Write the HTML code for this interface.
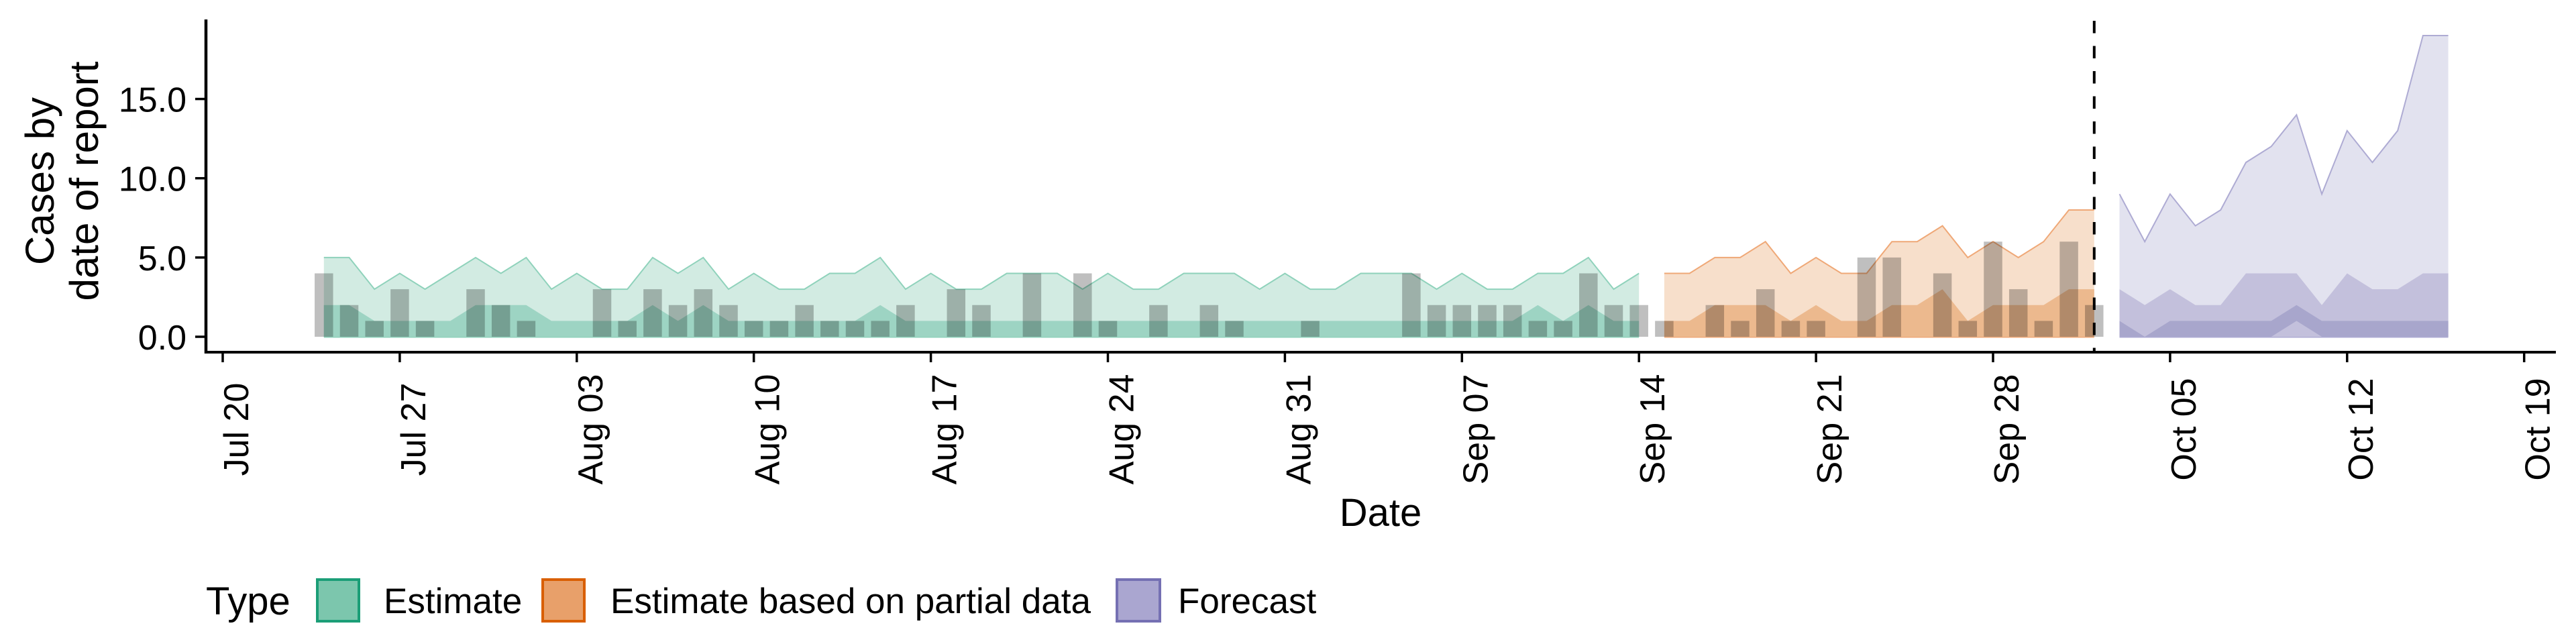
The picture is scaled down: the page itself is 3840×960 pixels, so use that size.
<!DOCTYPE html>
<html><head><meta charset="utf-8"><style>
html,body{margin:0;padding:0;background:#fff;}
svg{display:block;font-family:"Liberation Sans",sans-serif;}
</style></head><body>
<svg id="chart" width="3840" height="960" viewBox="0 0 3840 960" xmlns="http://www.w3.org/2000/svg">
<g id="bands"></g>
<g id="bars"></g>
<g id="axes"></g>
<g id="legend">
  <text x="307" y="916" font-size="58" fill="#000">Type</text>
  <g>
    <rect x="473" y="864" width="62" height="62" fill="#7cc6ad" stroke="#1b9e77" stroke-width="4"/>
    <text x="572" y="914" font-size="53" fill="#000">Estimate</text>
  </g>
  <g>
    <rect x="809" y="864" width="62" height="62" fill="#e8a06a" stroke="#d95f02" stroke-width="4"/>
    <text x="910" y="914" font-size="53" fill="#000">Estimate based on partial data</text>
  </g>
  <g>
    <rect x="1665" y="864" width="64" height="62" fill="#aaa6d0" stroke="#7570b3" stroke-width="4"/>
    <text x="1756" y="914" font-size="53" fill="#000">Forecast</text>
  </g>
</g>
</svg>
<script>
// ---- data (day index 0 = Jul 20) ----
const tickLabels = ["Jul 20","Jul 27","Aug 03","Aug 10","Aug 17","Aug 24","Aug 31","Sep 07","Sep 14","Sep 21","Sep 28","Oct 05","Oct 12","Oct 19"];
const yTicks = [0,5,10,15];
const yTickLabels = ["0.0","5.0","10.0","15.0"];
const barStart = 4;
const barValues = [4,2,1,3,1,0,3,2,1,0,0,3,1,3,2,3,2,1,1,2,1,1,1,2,0,3,2,0,4,0,4,1,0,2,0,2,1,0,0,1,0,0,0,4,2,2,2,2,1,1,4,2,2,1,0,2,1,3,1,1,0,5,5,0,4,1,6,3,1,6,2];
const estStart = 4;
const estHi90 = [5,5,3,4,3,4,5,4,5,3,4,3,3,5,4,5,3,4,3,3,4,4,5,3,4,3,3,4,4,4,3,4,3,3,4,4,4,3,4,3,3,4,4,4,3,4,3,3,4,4,5,3,4];
const estHi50 = [2,2,1,1,1,1,2,2,2,1,1,1,1,2,1,2,1,1,1,1,1,1,2,1,1,1,1,1,1,1,1,1,1,1,1,1,1,1,1,1,1,1,1,1,1,1,1,1,2,1,2,1,1];
const partStart = 57;
const partHi90 = [4,4,5,5,6,4,5,4,4,6,6,7,5,6,5,6,8,8];
const partHi50 = [1,1,2,2,2,1,2,1,1,2,2,3,1,2,2,2,3,3];
const fcStart = 75;
const fcHi90 = [9,6,9,7,8,11,12,14,9,13,11,13,19,19];
const fcHi50 = [3,2,3,2,2,4,4,4,2,4,3,3,4,4];
const fcLo20 = [0,0,0,0,0,0,0,1,0,0,0,0,0,0];
const fcHi20 = [1,0,1,1,1,1,1,2,1,1,1,1,1,1];
const cutoffDay = 74;

// ---- scales ----
const X0 = 332, DAY = 37.7;
const Y0 = 502, UNIT = 23.63;
const xs = d => X0 + DAY * d;
const ys = v => Y0 - UNIT * v;
const NS = "http://www.w3.org/2000/svg";
function mk(tag, attrs, parent){
  const e = document.createElementNS(NS, tag);
  for (const k in attrs) e.setAttribute(k, attrs[k]);
  parent.appendChild(e);
  return e;
}
const bands = document.getElementById('bands');
function band(start, lo, hi, fill, stroke, name){
  const top = hi.map((v,i)=>xs(start+i).toFixed(1)+","+ys(v).toFixed(1));
  const bot = hi.map((v,i)=>xs(start+i).toFixed(1)+","+ys(lo?lo[i]:0).toFixed(1)).reverse();
  const p = mk('polygon', {points: top.concat(bot).join(' '), fill: fill}, bands);
  
  
  if (stroke){
    const l = mk('polyline', {points: top.join(' '), fill:'none', stroke: stroke, 'stroke-width': 2}, bands);
    
    
    const b = mk('line', {x1: xs(start), x2: xs(start+hi.length-1), y1: ys(0), y2: ys(0), stroke: stroke, 'stroke-width': 3}, bands);
    
    
  }
}
band(estStart, null, estHi90, '#d2ebe2', '#8fd2bb', 'estimate-band-90');
band(estStart, null, estHi50, '#9dd4c3', null, 'estimate-band-50');
band(partStart, null, partHi90, '#f7dfcb', '#efa877', 'partial-band-90');
band(partStart, null, partHi50, '#ecb98e', null, 'partial-band-50');
band(fcStart, null, fcHi90, '#e2e2ef', '#aeabd3', 'forecast-band-90');
band(fcStart, null, fcHi50, '#c3c0dc', null, 'forecast-band-50');
band(fcStart, fcLo20, fcHi20, '#a8a6cc', null, 'forecast-band-20');

// bars
const barsG = document.getElementById('bars');
const BW = 27.5;
barValues.forEach((v,i)=>{
  if (v <= 0) return;
  const d = barStart + i;
  const r = mk('rect', {x: xs(d)-BW/2, y: ys(v), width: BW, height: ys(0)-ys(v), fill: '#000', 'fill-opacity': 0.25}, barsG);
  
  
});

// axes
const ax = document.getElementById('axes');
const vl = mk('line', {x1: xs(cutoffDay), x2: xs(cutoffDay), y1: 31, y2: 523, stroke:'#000', 'stroke-width':4, 'stroke-dasharray':'18.5 19'}, ax);


const yl = mk('line', {x1: 307, x2: 307, y1: 29, y2: 527, stroke:'#000', 'stroke-width':4.5}, ax);


const xl = mk('line', {x1: 305, x2: 3810, y1: 525, y2: 525, stroke:'#000', 'stroke-width':4}, ax);


yTicks.forEach((v,i)=>{
  const t = mk('line', {x1: 291, x2: 307, y1: ys(v), y2: ys(v), stroke:'#000', 'stroke-width':3.5}, ax);
  
  
  const tx = mk('text', {x: 278, y: ys(v)+19, 'font-size':52, 'text-anchor':'end', fill:'#000'}, ax);
  tx.textContent = yTickLabels[i];
  
  
});
tickLabels.forEach((lab,i)=>{
  const x = xs(i*7);
  const t = mk('line', {x1: x, x2: x, y1: 525, y2: 540, stroke:'#000', 'stroke-width':3.5}, ax);
  
  
  const tx = mk('text', {transform: 'translate(' + (x+38) + ',640) rotate(-90)', 'font-size':52, 'text-anchor':'middle', fill:'#000'}, ax);
  tx.textContent = lab;
  
  
});
const xt = mk('text', {x: 2058, y: 784, 'font-size':58, 'text-anchor':'middle', fill:'#000'}, ax);
xt.textContent = 'Date';


const yt1 = mk('text', {transform:'translate(80,270) rotate(-90)', 'font-size':60, 'text-anchor':'middle', fill:'#000'}, ax);
yt1.textContent = 'Cases by';


const yt2 = mk('text', {transform:'translate(146,270) rotate(-90)', 'font-size':60, 'text-anchor':'middle', fill:'#000'}, ax);
yt2.textContent = 'date of report';


</script>
</body></html>
